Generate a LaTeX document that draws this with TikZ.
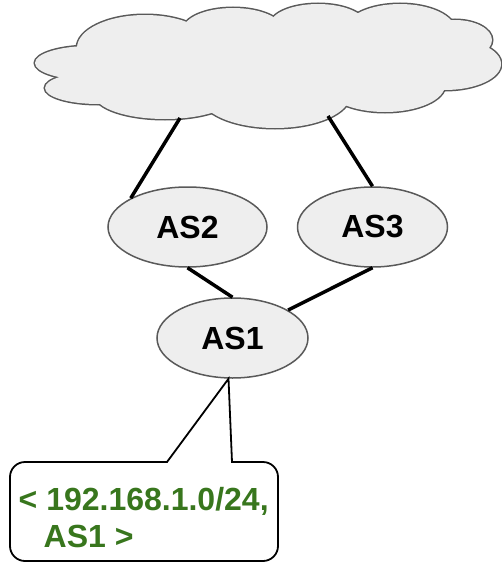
\documentclass[tikz,border=0pt]{standalone}
\usepackage{fontspec}
\setmainfont{Liberation Sans}
\usetikzlibrary{shapes.geometric,positioning}

\definecolor{nodefill}{HTML}{EEEEEE}
\definecolor{nodeedge}{HTML}{595959}
\definecolor{routegreen}{HTML}{38761D}

\newcommand{\cloudparts}{145/48/68/33, 233/30/50/22, 318/25/48/21, 400/30/55/26, 455/40/37/20, 445/64/56/26, 385/85/60/27, 275/95/75/33, 165/95/70/24, 98/88/53/16, 90/63/55/17}

\tikzset{
	as/.style={ellipse, draw=nodeedge, fill=nodefill, line width=1.5pt, minimum height=80pt, inner sep=0pt, font=\fontsize{32}{37}\selectfont\bfseries},
	link/.style={line width=3.5pt},
	callout/.style={line width=1.8pt}
}

\begin{document}
\begin{tikzpicture}[x=1pt, y=-1pt]
	\useasboundingbox (0,0) rectangle (501,562);

	\foreach \cx/\cy/\rx/\ry in \cloudparts
		\draw[nodeedge, line width=3pt] (\cx,\cy) ellipse [x radius=\rx pt, y radius=\ry pt];
	\foreach \cx/\cy/\rx/\ry in \cloudparts
		\fill[nodefill] (\cx,\cy) ellipse [x radius=\rx pt, y radius=\ry pt];
	\fill[nodefill] (270,65) ellipse [x radius=170pt, y radius=40pt];
	\coordinate(cloud2) at (180,118);
	\coordinate(cloud3) at (328,116);

	\node(AS1) [as, minimum width=151pt] at (232.5,338) {AS1};
	\node(AS2) [as, minimum width=159pt] at (187.5,227) {AS2};
	\node(AS3) [as, minimum width=150pt, right=29pt of AS2] {AS3};

	\draw[link] (cloud2) -- (AS2.north west);
	\draw[link] (cloud3) -- (AS3.north);
	\draw[link] (AS2.south) -- (AS1.north);
	\draw[link] (AS3.south) -- (AS1);

	\coordinate(tip) at ([xshift=-4pt]AS1.south);
	\node(route) [anchor=base west, text=routegreen, align=left, inner sep=0pt, font=\fontsize{32}{37}\selectfont\bfseries] at (18.5,547) {< 192.168.1.0/24,\\\hspace*{25pt}AS1 >};
	\draw[callout] (167,462) -- (tip) -- (232,462) -- (240,462) [rounded corners=15pt] -- (278,462) -- (278,561) -- (10,561) -- (10,462) -- (150,462) [sharp corners] -- cycle;

\end{tikzpicture}
\end{document}
